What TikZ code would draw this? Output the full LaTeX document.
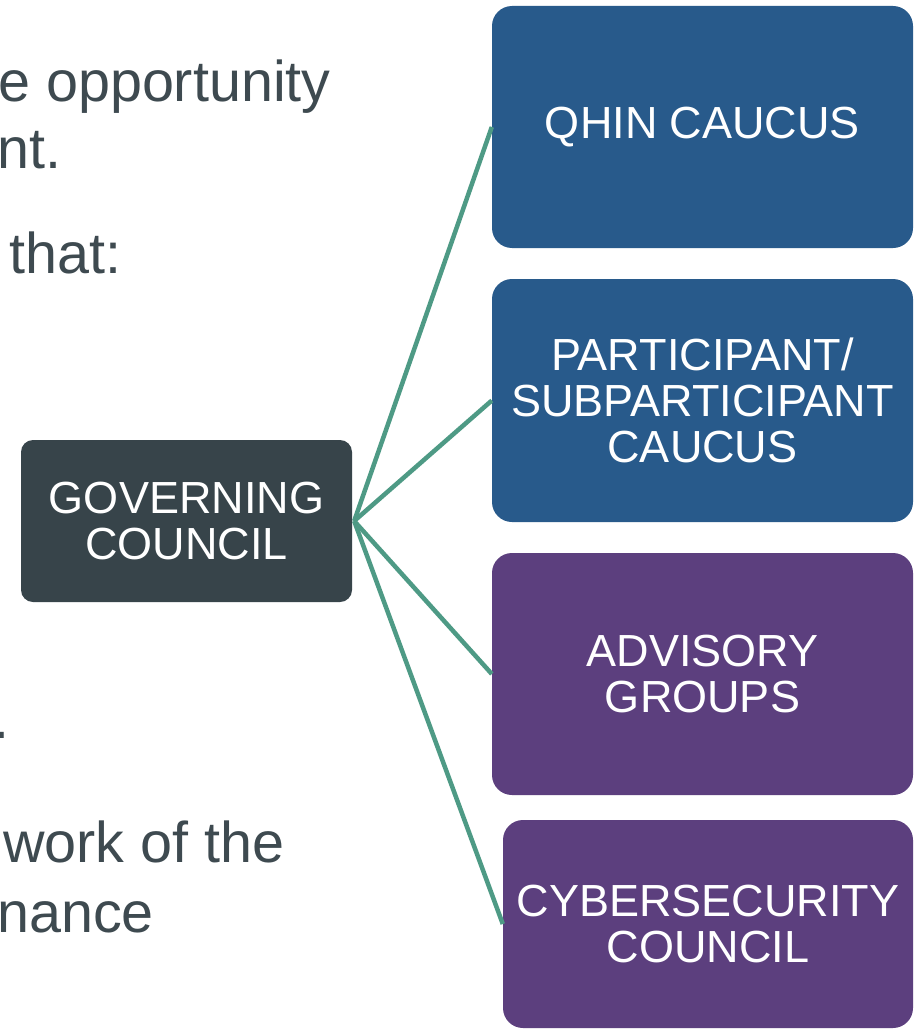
\documentclass[tikz,border=0pt]{standalone}
\usepackage{fontspec}
\setmainfont{Liberation Sans}
\definecolor{caucusblue}{HTML}{285A8B}
\definecolor{groupviolet}{HTML}{5C3F7E}
\definecolor{councilgray}{HTML}{37444A}
\definecolor{linkteal}{HTML}{4E9A85}
\definecolor{slidegray}{HTML}{3E4A50}
\newcommand\orgtextstyle{\fontsize{45}{46}\selectfont}
\newcommand\slidetextstyle{\fontsize{57.5}{66}\selectfont}
\newcommand\orgboxwidth{421pt}
\newcommand\orgboxheight{242pt}
\tikzset{
  orgbox/.style={rounded corners=20pt, text=white, align=center, inner sep=0pt, font=\orgtextstyle},
  caucusbox/.style={orgbox, fill=caucusblue, minimum width=\orgboxwidth, minimum height=\orgboxheight},
  groupbox/.style={orgbox, fill=groupviolet, minimum width=\orgboxwidth, minimum height=\orgboxheight},
  councilbox/.style={orgbox, fill=councilgray, rounded corners=12pt, minimum width=331pt, minimum height=162pt},
  orglink/.style={draw=linkteal, line width=4.5pt},
  slidetext/.style={anchor=base west, inner sep=0pt, text=slidegray, font=\slidetextstyle}
}

\begin{document}
\begin{tikzpicture}[x=1pt, y=-1pt]
  \useasboundingbox[fill=white] (0,0) rectangle (917,1030);
  % slide text cut by the picture
  \node[slidetext] (opp) at (-2,102) {e opportunity};
  \node[slidetext] (ment) at (-3,168) {nt.};
  \node[slidetext] (that) at (9,273) {that:};
  \node[slidetext] (stop) at (-7,738) {.};
  \node[slidetext] (work) at (3,862) {work of the};
  \node[slidetext] (nance) at (-3,932) {nance};
  % boxes
  \node[councilbox] (gc) at (186.5,521) {GOVERNING\\COUNCIL};
  \node[caucusbox] (qhin) at (702.5,127) {QHIN CAUCUS};
  \node[caucusbox, minimum height=243pt] (part) at (702.5,400.5) {PARTICIPANT/\\SUBPARTICIPANT\\CAUCUS};
  \node[groupbox] (adv) at (702.5,674) {ADVISORY\\GROUPS};
  \node[groupbox, minimum width=410pt, minimum height=208pt] (cyber) at (708,924) {CYBERSECURITY\\COUNCIL};
  % links
  \foreach \target in {qhin, part, adv, cyber}
    \draw[orglink] ([xshift=2pt]gc.east) -- (\target.west);
\end{tikzpicture}
\end{document}
